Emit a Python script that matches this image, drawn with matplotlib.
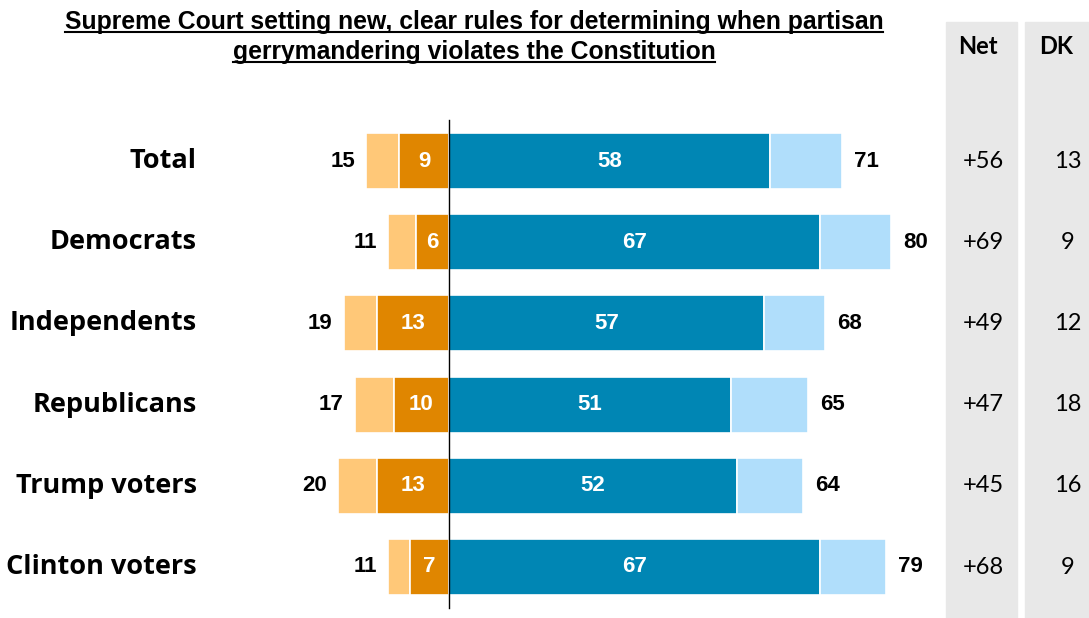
import matplotlib
matplotlib.use("Agg")
import matplotlib.pyplot as plt
from matplotlib.patches import Rectangle

categories = ["Total", "Democrats", "Independents", "Republicans", "Trump voters", "Clinton voters"]
oppose_total = [15, 11, 19, 17, 20, 11]
oppose_strong = [9, 6, 13, 10, 13, 7]
support_strong = [58, 67, 57, 51, 52, 67]
support_total = [71, 80, 68, 65, 64, 79]
net = ["+56", "+69", "+49", "+47", "+45", "+68"]
dk = [13, 9, 12, 18, 16, 9]

title_lines = ["Supreme Court setting new, clear rules for determining when partisan",
               "gerrymandering violates the Constitution"]

C_LO = "#FFC878"
C_DO = "#E08600"
C_DB = "#0086B4"
C_LB = "#B0DEFB"

W, H = 1089, 618
fig = plt.figure(figsize=(W / 100, H / 100), dpi=100)
ax = fig.add_axes([0, 0, 1, 1])
ax.set_zorder(1)
ax.patch.set_alpha(0)
ppu = 5.53
x0 = 449
ax.set_xlim(-x0 / ppu, (W - x0) / ppu)
row_px = 81.2
top = 161
ax.set_ylim((H - top) / row_px, -top / row_px)
ax.axis("off")

# gray panels for Net / DK
fig.patches.append(Rectangle((946 / W, 0), (1017 - 946) / W, (H - 22) / H,
                             transform=fig.transFigure, color="#E8E8E8", zorder=0))
fig.patches.append(Rectangle((1025 / W, 0), (1089 - 1025) / W, (H - 22) / H,
                             transform=fig.transFigure, color="#E8E8E8", zorder=0))

bh = 0.69
ys = list(range(len(categories)))
ax.barh(ys, [-(a - b) for a, b in zip(oppose_total, oppose_strong)], left=[-b for b in oppose_strong],
        height=bh, color=C_LO, edgecolor="white", linewidth=1.2)
ax.barh(ys, [-b for b in oppose_strong], height=bh, color=C_DO, edgecolor="white", linewidth=1.2)
ax.barh(ys, support_strong, height=bh, color=C_DB, edgecolor="white", linewidth=1.2)
ax.barh(ys, [a - b for a, b in zip(support_total, support_strong)], left=support_strong,
        height=bh, color=C_LB, edgecolor="white", linewidth=1.2)

ax.plot([0, 0], [-0.5, 5.5], color="black", linewidth=1, zorder=5)

num_font = dict(family="Liberation Sans", fontweight="bold", fontsize=16)
for i, c in enumerate(categories):
    ax.text(197 / ppu - x0 / ppu, i, c, ha="right", va="center", fontsize=19.5,
            fontweight="bold", family="Open Sans", color="black")
    ax.text(-oppose_strong[i] / 2, i, str(oppose_strong[i]), ha="center", va="center",
            color="white", **num_font)
    ax.text(support_strong[i] / 2, i, str(support_strong[i]), ha="center", va="center",
            color="white", **num_font)
    ax.text(-oppose_total[i] - 2.0, i, str(oppose_total[i]), ha="right", va="center",
            color="black", **num_font)
    ax.text(support_total[i] + 2.2, i, str(support_total[i]), ha="left", va="center",
            color="black", **num_font)
    ax.text((983 - x0) / ppu, i, net[i], ha="center", va="center", fontsize=17,
            family="Lato", color="black")
    ax.text((1068 - x0) / ppu, i, str(dk[i]), ha="center", va="center", fontsize=17,
            family="Lato", color="black")

fig.text(978 / W, 1 - 47 / H, "Net", ha="center", va="center", fontsize=17,
         fontweight="bold", family="Lato")
fig.text(1056 / W, 1 - 47 / H, "DK", ha="center", va="center", fontsize=17,
         fontweight="bold", family="Lato")

# title with underline
tys = [22, 52]
renderer = fig.canvas.get_renderer()
for line, ty in zip(title_lines, tys):
    t = fig.text(474 / W, 1 - ty / H, line, ha="center", va="center", fontsize=17.8,
                 fontweight="bold", family="Liberation Sans")
    bb = t.get_window_extent(renderer=renderer)
    uy = (bb.y0 + 2) / H
    fig.add_artist(plt.Line2D([bb.x0 / W, bb.x1 / W], [uy, uy], transform=fig.transFigure,
                              color="black", linewidth=1.5))

fig.savefig("out.png", dpi=100)
